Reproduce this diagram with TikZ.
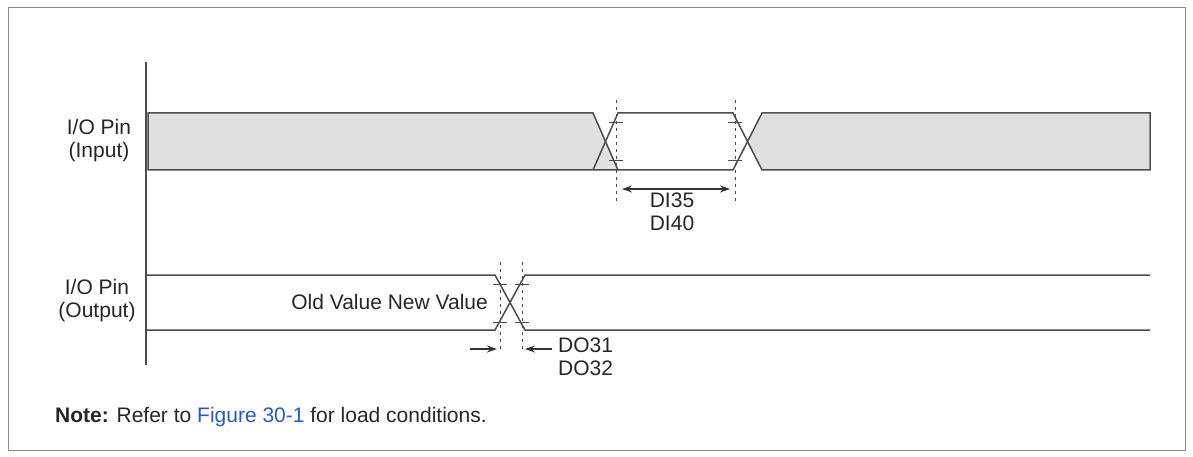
\documentclass[tikz,border=0pt]{standalone}
\usepackage{fontspec}
\setmainfont{Liberation Sans}
\usetikzlibrary{arrows.meta,positioning}

\begin{document}
\begin{tikzpicture}
        [x=1pt, y=-1pt, font=\fontsize{21}{23}\selectfont,
         wave/.style={draw=black!70, line width=1.5pt},
         guide/.style={draw=black!70, dash pattern=on 3pt off 4pt, line width=1pt},
         tick/.style={draw=black!70, line width=1pt},
         dim/.style={draw=black!80, line width=1.5pt, -{Stealth[length=10pt,width=7pt]}},
         label/.style={align=center, inner sep=0pt, text=black!85}]

        \useasboundingbox (0,0) rectangle (1193,457);
        \draw[black!45, line width=1pt] (8,8) rectangle (1185,450);
        % time axis
        \coordinate (axtop) at (146,62);
        \coordinate (axbot) at (146,365);
        \draw[black!70, line width=1.2pt] (axtop) -- (axbot);

        % input waveform
        \fill[black!12, draw=black!70, line width=1.5pt] (148,113) -- (593,113) -- (618,170) -- (148,170) -- cycle;
        \fill[black!12] (762,114) -- (1149,114) -- (1149,169) -- (762,169) -- (748,141.5) -- cycle;
        \draw[wave] (593,170) -- (618,113) -- (733,113) -- (762,170) -- (1150,170) -- (1150,113) -- (762,113) -- (733,170) -- (618,170);
        \foreach \x in {616,735} {
                \draw[guide] (\x,100) -- (\x,205);
                \draw[tick] (\x-7,123) -- (\x+7,123) (\x-7,161) -- (\x+7,161);
        }
        \coordinate (di a) at (622,189);
        \coordinate (di b) at (730,189);
        \draw[dim, {Stealth[length=10pt,width=7pt]}-{Stealth[length=10pt,width=7pt]}] (di a) -- (di b);
        \node[label] (di) at (672,212) {DI35\\DI40};

        % output waveform
        \draw[wave] (146,275) -- (495,275) -- (525,330) -- (1150,330);
        \draw[wave] (146,330) -- (495,330) -- (525,275) -- (1150,275);
        \foreach \x in {500,522} {
                \draw[guide] (\x,262) -- (\x,352);
                \draw[tick] (\x-7,284) -- (\x+7,284) (\x-7,322) -- (\x+7,322);
        }
        \coordinate (do a) at (470,349);
        \coordinate (do b) at (497,349);
        \coordinate (do c) at (552,349);
        \coordinate (do d) at (525,349);
        \draw[dim] (do a) -- (do b);
        \draw[dim] (do c) -- (do d);
        \node[label, anchor=west] (do) at (558,357) {DO31\\DO32};
        \node[label, anchor=east] (vals) at (488,302) {Old Value New Value};

        % signal names
        \node[label] (in pin) at (99,141) {I/O Pin\\(Input)};
        \node[label] (out pin) at (97,301) {I/O Pin\\(Output)};

        \node[label, anchor=west] (note) at (55,417) {\textbf{Note:} Refer to \textcolor[RGB]{40,90,200}{Figure 30-1} for load conditions.};
\end{tikzpicture}
\end{document}
